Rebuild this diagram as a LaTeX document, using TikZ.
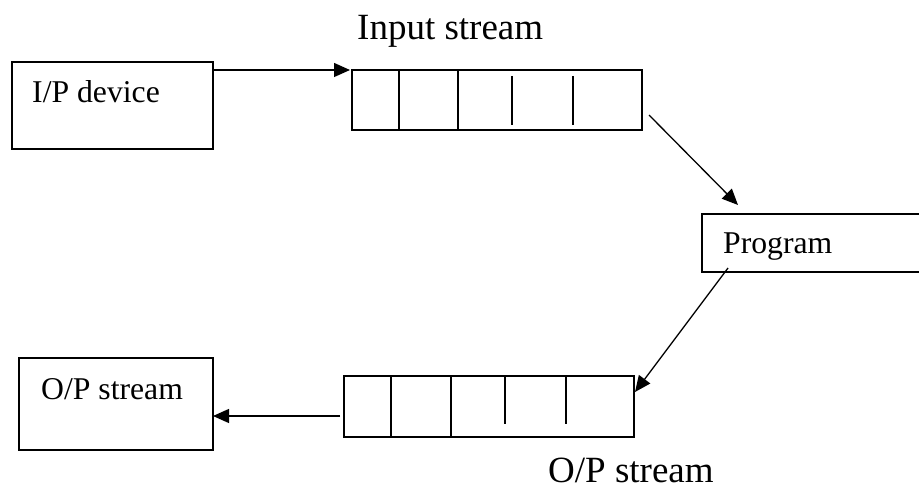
\documentclass[tikz,border=0pt]{standalone}
\usepackage{fontspec}
\setmainfont{Liberation Serif}
\usetikzlibrary{arrows.meta,calc}
\begin{document}
\begin{tikzpicture}[x=1pt,y=-1pt,
  box/.style={draw, line width=1.6pt, rectangle, inner sep=0pt, outer sep=0pt, anchor=north west},
  cell/.style={line width=1.4pt},
  flow/.style={line width=1.3pt, -{Triangle[length=16pt,width=14pt]}},
  boxtext/.style={anchor=base west, inner sep=0pt, font=\fontsize{31.7}{36}\selectfont},
  title/.style={anchor=base west, inner sep=0pt, font=\fontsize{37}{42}\selectfont}]
\clip (0,0) rectangle (919,489);

% device, program and output boxes
\node[box, minimum width=201pt, minimum height=87pt] (ipdev) at (12,62) {};
\node[boxtext] (ipdevtext) at (32,103) {I/P device};
\node[box, minimum width=240pt, minimum height=58pt] (prog) at (702,214) {};
\node[boxtext] (progtext) at (723,254) {Program};
\node[box, minimum width=194pt, minimum height=92pt] (opbox) at (19,358) {};
\node[boxtext] (opboxtext) at (41,399) {O/P stream};

% input buffer
\node[box, minimum width=290pt, minimum height=60pt] (inbuf) at (352,70) {};
\node[title] (intitle) at (357,40) {Input stream};
\draw[cell] ($(inbuf.north west)+(47,0)$) -- ($(inbuf.south west)+(47,0)$);
\draw[cell] ($(inbuf.north west)+(106,0)$) -- ($(inbuf.south west)+(106,0)$);
\draw[cell] ($(inbuf.north west)+(160,6)$) -- ($(inbuf.north west)+(160,55)$);
\draw[cell] ($(inbuf.north west)+(221,6)$) -- ($(inbuf.north west)+(221,55)$);

% output buffer
\node[box, minimum width=290pt, minimum height=61pt] (outbuf) at (344,376) {};
\node[title] (outtitle) at (548,482) {O/P stream};
\draw[cell] ($(outbuf.north west)+(47,0)$) -- ($(outbuf.south west)+(47,0)$);
\draw[cell] ($(outbuf.north west)+(107,0)$) -- ($(outbuf.south west)+(107,0)$);
\draw[cell] ($(outbuf.north west)+(161,0)$) -- ($(outbuf.north west)+(161,48)$);
\draw[cell] ($(outbuf.north west)+(222,0)$) -- ($(outbuf.north west)+(222,48)$);

% data flow
\draw[flow] (ipdev.east |- inbuf.north) -- ($(inbuf.north west)+(-2,0)$);
\draw[flow] ($(inbuf.south east)+(7,-15)$) -- ($(prog.north west)+(36,-9)$);
\draw[flow] ($(prog.south west)+(26,-4)$) -- ($(outbuf.north east)+(1,16)$);
\draw[flow] ($(outbuf.north west)+(-4,40)$) coordinate (outstart) -- (outstart -| opbox.east);
\end{tikzpicture}
\end{document}
